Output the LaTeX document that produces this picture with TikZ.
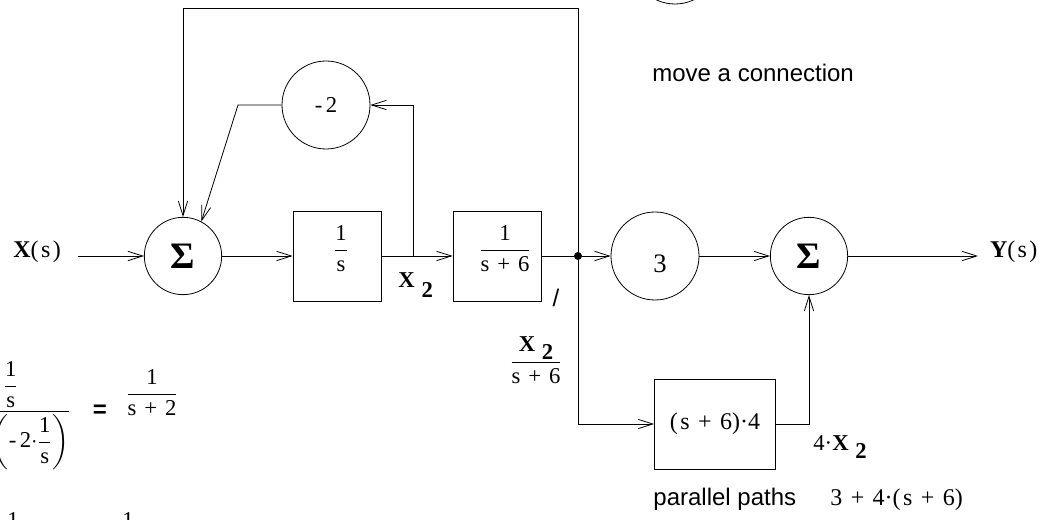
\documentclass[tikz,border=0pt]{standalone}
\usepackage{amsmath}
\usepackage{fontspec}
\setmainfont{Liberation Serif}
\setsansfont{Liberation Sans}
\usetikzlibrary{arrows.meta}
\newcommand{\pls}{\hspace{0.35em}+\hspace{0.35em}}
\newcommand{\frc}[2]{$\dfrac{\text{#1}}{\text{#2}}$}
\newcommand{\xtwo}[1]{\textbf{X\hspace{0.3em}\raisebox{-#1}{2}}}

\begin{document}
\begin{tikzpicture}[x=0.75pt, y=-0.75pt, line width=0.6pt, >={Straight Barb[length=11pt, width=7pt]}]
\tikzset{somme/.style={draw, circle, inner sep=0pt, minimum size=58pt, font=\fontsize{28}{31}\selectfont\bfseries},
  rond/.style={draw, circle, inner sep=0pt, minimum size=66pt, font=\fontsize{17}{20}\selectfont},
  bloc/.style={draw, rectangle, inner sep=0pt, minimum width=66pt, minimum height=67.5pt, font=\fontsize{17}{20}\selectfont},
  fracbox/.style={bloc, text height=12pt, text depth=12pt},
  txt/.style={inner sep=0pt, font=\fontsize{17}{20}\selectfont},
  form/.style={inner sep=0pt, font=\fontsize{18}{21}\selectfont},
  note/.style={inner sep=0pt, font=\sffamily\fontsize{18}{21}\selectfont},
  point/.style={fill, circle, inner sep=0pt, minimum size=6pt}}
\useasboundingbox (0,0) rectangle (1046,520);
\fill[white] (0,0) rectangle (1046,520);
\clip (0,0) rectangle (1046,520);
% blocks
\node[somme] (S1) at (183,256) {Σ};
\node[rond] (M2) at (326,105) {-\hspace{0.15em}2};
\node[fracbox] (B1) at (337,256) {\hspace{6pt}\frc{1}{s}};
\node[fracbox] (B2) at (497,256) {\hspace{12pt}\frc{1}{s\pls 6}};
\node[point] (dot) at (578,256) {};
\node[rond] (C3) at (655,256) {};
\node[form, font=\fontsize{20}{23}\selectfont] (t3) at (660,264) {3};
\node[somme] (S2) at (809,256) {Σ};
\node[bloc, minimum width=90.75pt, font=\fontsize{18}{21}\selectfont] (B3) at (715,424) {(\hspace{0.1em}s\pls 6)·4};
\node[rond] (C0) at (675,-40) {};
% signals
\node[form, outer xsep=13pt, anchor=base west] (X) at (-4,258) {\textbf{X}(\hspace{0.1em}s\hspace{0.1em})};
\node[form, outer xsep=9pt, anchor=base west] (Y) at (978,258) {\textbf{Y}(\hspace{0.1em}s\hspace{0.1em})};
\coordinate (br) at (413,256);
\coordinate (k1) at (238,105);
\coordinate (t2) at (183,8);
% connections
\draw[->] (X.east |- S1) -- (S1);
\draw[->] (S1) -- (B1);
\draw[->] (B1) -- (B2);
\draw (B2) -- (dot);
\draw[->] (dot) -- (C3);
\draw[->] (C3) -- (S2);
\draw[->] (S2) -- (S2 -| Y.west);
\draw[->] (br) |- (M2);
\draw[->] (M2) -- (k1) -- (S1.62);
\draw[->] (dot) |- (t2) -- (S1);
\draw[->] (dot) |- (B3);
\draw[->] (B3) -| (S2);
% labels
\node[txt, anchor=base west] (x2a) at (398,288) {\xtwo{7.5pt}};
\node[note, anchor=base] (sl) at (556,306) {/};
\node[txt, anchor=base] (x2b) at (536,368) {$\dfrac{\text{\xtwo{6pt}}}{\text{s\pls 6}}$};
\node[txt, anchor=base west] (x2c) at (813,450) {4·\xtwo{6pt}};
\node[note, anchor=base west] (mv) at (652,82) {move a connection};
\node[note, anchor=base west] (pp) at (653,505) {parallel paths};
\node[form, anchor=base west] (pf) at (830,505) {3\pls 4·(\hspace{0.1em}s\pls 6)};
% equation
\node[txt, anchor=base east] (eqL) at (71,417) {$\dfrac{\dfrac{\text{1}}{\text{s}}}{\text{1} - \left(\text{-\hspace{0.15em}2}{\cdot}\dfrac{\text{1}}{\text{s}}\right)}$};
\node[note, font=\sffamily\bfseries\fontsize{18}{21}\selectfont] (eq) at (100,411) {=};
\node[txt, anchor=base] (eqR) at (152,400) {\frc{1}{s\pls 2}};
\node[txt, anchor=base] (ba) at (13,527) {1};
\node[txt, anchor=base] (bb) at (128,527) {1};
\end{tikzpicture}
\end{document}
